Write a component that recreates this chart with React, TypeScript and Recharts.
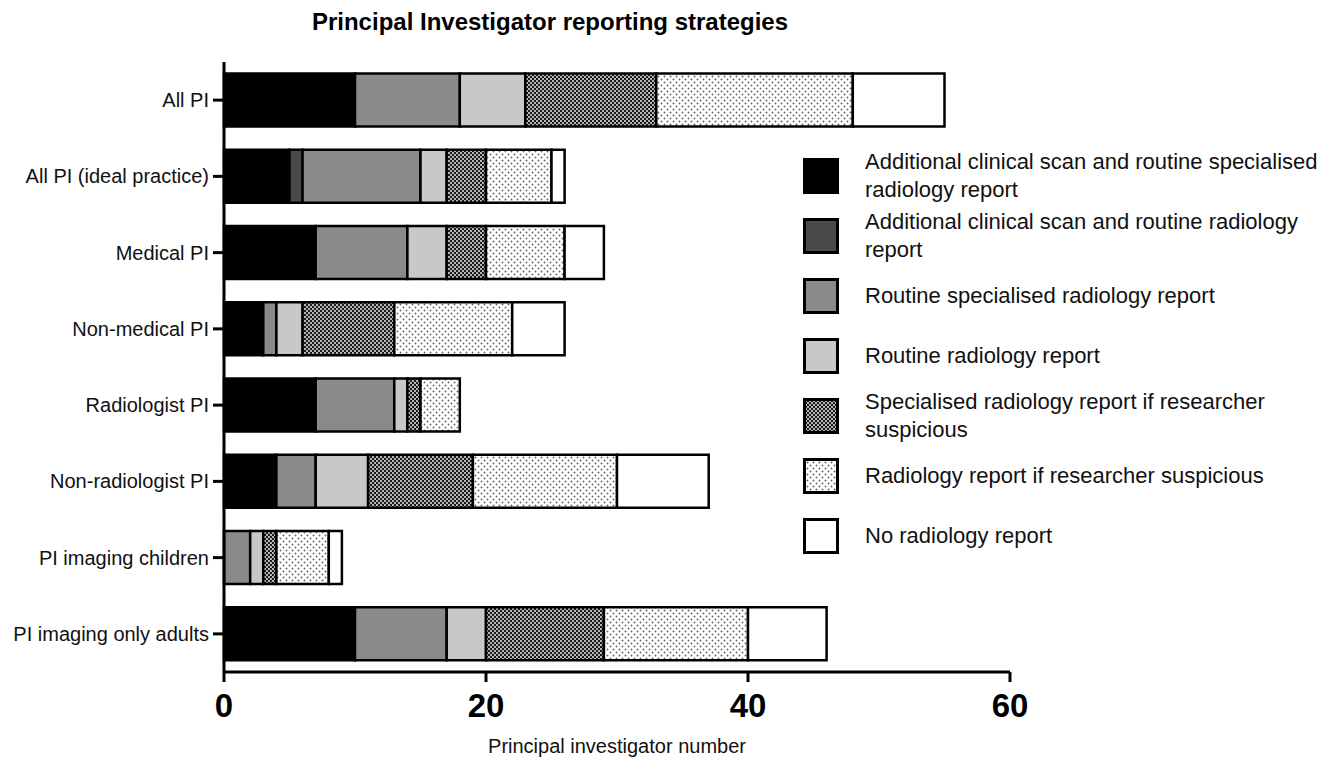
import { Bar, BarChart, XAxis, YAxis } from "recharts";

const categories = [
  "All PI",
  "All PI (ideal practice)",
  "Medical PI",
  "Non-medical PI",
  "Radiologist PI",
  "Non-radiologist PI",
  "PI imaging children",
  "PI imaging only adults",
];

const scanSpecialised = [10, 5, 7, 3, 7, 4, 0, 10];
const scanRoutine = [0, 1, 0, 0, 0, 0, 0, 0];
const routineSpecialised = [8, 9, 7, 1, 6, 3, 2, 7];
const routineReport = [5, 2, 3, 2, 1, 4, 1, 3];
const specialisedIfSuspicious = [10, 3, 3, 7, 1, 8, 1, 9];
const reportIfSuspicious = [15, 5, 6, 9, 3, 11, 4, 11];
const noReport = [7, 1, 3, 4, 0, 7, 1, 6];

const xTicks = [0, 20, 40, 60];

const series = [
  { key: "scanSpecialised", values: scanSpecialised, fill: "#000000", label: "Additional clinical scan and routine specialised\nradiology report" },
  { key: "scanRoutine", values: scanRoutine, fill: "#4a4a4a", label: "Additional clinical scan and routine radiology\nreport" },
  { key: "routineSpecialised", values: routineSpecialised, fill: "#8a8a8a", label: "Routine specialised radiology report" },
  { key: "routineReport", values: routineReport, fill: "#c8c8c8", label: "Routine radiology report" },
  { key: "specialisedIfSuspicious", values: specialisedIfSuspicious, fill: "url(#hatch)", label: "Specialised radiology report if researcher\nsuspicious" },
  { key: "reportIfSuspicious", values: reportIfSuspicious, fill: "url(#dots)", label: "Radiology report if researcher suspicious" },
  { key: "noReport", values: noReport, fill: "#ffffff", label: "No radiology report" },
];

const rows = categories.map((name, i) => {
  const row: Record<string, string | number> = { name };
  series.forEach((s) => {
    row[s.key] = s.values[i];
  });
  return row;
});

const FONT = "'Liberation Sans', Arial, sans-serif";

function Patterns({ suffix = "" }: { suffix?: string }) {
  return (
    <defs>
      <pattern id={"hatch" + suffix} width="4" height="4" patternUnits="userSpaceOnUse">
        <rect width="4" height="4" fill="#1a1a1a" />
        <circle cx="1" cy="1" r="0.9" fill="#ffffff" />
        <circle cx="3" cy="3" r="0.9" fill="#ffffff" />
      </pattern>
      <pattern id={"dots" + suffix} width="6" height="6" patternUnits="userSpaceOnUse">
        <rect width="6" height="6" fill="#ffffff" />
        <circle cx="1.5" cy="1.5" r="0.95" fill="#666666" />
        <circle cx="4.5" cy="4.5" r="0.95" fill="#666666" />
      </pattern>
    </defs>
  );
}

function XTick({ x, y, payload }: any) {
  return (
    <text x={x} y={y + 33} textAnchor="middle" fontFamily={FONT} fontWeight="bold" fontSize={33} fill="#000">
      {payload.value}
    </text>
  );
}

function YTick({ x, y, payload }: any) {
  return (
    <text x={x} y={y} dy="0.35em" textAnchor="end" fontFamily={FONT} fontSize={20} fill="#111">
      {payload.value}
    </text>
  );
}

function ChartLegend() {
  return (
    <div style={{ position: "absolute", left: 803, top: 0, fontFamily: FONT, fontSize: 22, color: "#111" }}>
      {series.map((s, i) => (
        <div
          key={s.key}
          style={{ position: "absolute", left: 0, top: 146 + i * 60, height: 60, width: 539, display: "flex", alignItems: "center" }}
        >
          <svg width={36} height={36} style={{ flex: "none" }}>
            <Patterns suffix="L" />
            <rect
              x={1.5}
              y={1.5}
              width={33}
              height={33}
              fill={s.fill.replace(")", "L)")}
              stroke="#000"
              strokeWidth={3}
            />
          </svg>
          <div style={{ marginLeft: 26, whiteSpace: "pre-line", lineHeight: "28px" }}>{s.label}</div>
        </div>
      ))}
    </div>
  );
}

export default function App() {
  return (
    <div style={{ position: "absolute", left: 0, top: 0, width: 1342, height: 760, background: "#fff" }}>
      <div
        style={{
          position: "absolute",
          left: 550,
          top: 8,
          transform: "translateX(-50%)",
          whiteSpace: "nowrap",
          fontFamily: FONT,
          fontWeight: "bold",
          fontSize: 24,
          color: "#000",
        }}
      >
        Principal Investigator reporting strategies
      </div>
      <BarChart
        width={1342}
        height={760}
        layout="vertical"
        data={rows}
        margin={{ top: 62, right: 332, bottom: 0, left: 10 }}
        barCategoryGap="15%"
      >
        <Patterns />
        <XAxis
          type="number"
          domain={[0, 60]}
          ticks={xTicks}
          height={88}
          tickSize={10}
          axisLine={{ stroke: "#000", strokeWidth: 3 }}
          tickLine={{ stroke: "#000", strokeWidth: 3 }}
          tick={<XTick />}
          label={{
            value: "Principal investigator number",
            position: "insideBottom",
            offset: 7,
            style: { fontFamily: FONT, fontSize: 20, fill: "#111" },
          }}
        />
        <YAxis
          type="category"
          dataKey="name"
          width={214}
          tickSize={11}
          tickMargin={4}
          axisLine={{ stroke: "#000", strokeWidth: 3 }}
          tickLine={{ stroke: "#000", strokeWidth: 3 }}
          tick={<YTick />}
        />
        {series.map((s) => (
          <Bar
            key={s.key}
            dataKey={s.key}
            stackId="a"
            fill={s.fill}
            stroke="#000"
            strokeWidth={2.5}
            isAnimationActive={false}
          />
        ))}
      </BarChart>
      <ChartLegend />
    </div>
  );
}
